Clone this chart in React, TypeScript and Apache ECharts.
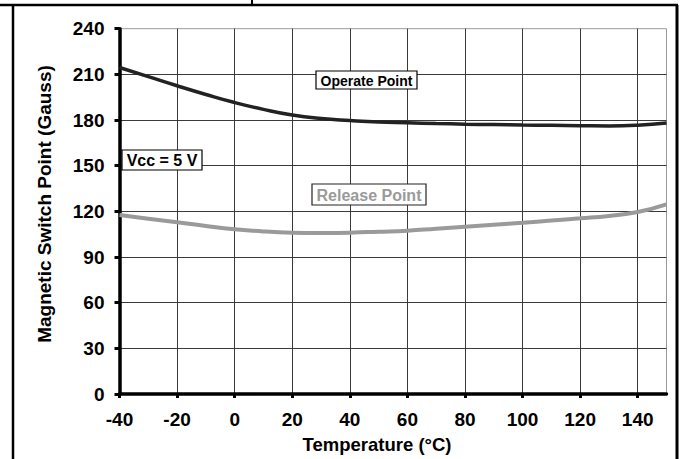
import React, { useEffect, useRef } from "react";
import * as echarts from "echarts";

const temperatures = [-40, -30, -20, -10, 0, 10, 20, 30, 40, 50, 60, 70, 80, 90, 100, 110, 120, 130, 140, 150];
const operatePoint = [214.5, 208.5, 202.5, 196.8, 191.5, 187, 183.3, 181, 179.7, 178.7, 178.2, 177.7, 177.3, 177, 176.7, 176.5, 176.3, 176.1, 176.6, 178];
const releasePoint = [117.6, 115.2, 112.8, 110.4, 108.3, 106.8, 106, 105.8, 106, 106.6, 107.3, 108.6, 109.9, 111.2, 112.5, 114, 115.4, 117, 119.6, 124.6];

const xMin = -40;
const xMax = 150;
const xStep = 20;
const yMin = 0;
const yMax = 240;
const yStep = 30;

const FONT = "'Liberation Sans', Arial, 'DejaVu Sans', sans-serif";

export default function App() {
  const ref = useRef<HTMLDivElement>(null);
  useEffect(() => {
    if (!ref.current) return;
    const chart = echarts.init(ref.current, undefined, { renderer: "svg" });
    const op = temperatures.map((t, i) => [t, operatePoint[i]]);
    const rp = temperatures.map((t, i) => [t, releasePoint[i]]);
    chart.setOption({
      animation: false,
      backgroundColor: "#ffffff",
      grid: {
        left: 119.5,
        top: 28.7,
        right: 14.5,
        bottom: 65,
        show: true,
        borderColor: "#9a9a9a",
        borderWidth: 1,
        backgroundColor: "transparent",
      },
      xAxis: {
        type: "value",
        min: xMin,
        max: xMax,
        interval: xStep,
        axisLine: { show: true, onZero: false, lineStyle: { color: "#000", width: 3.5 } },
        axisTick: { show: true, length: 4, lineStyle: { color: "#000", width: 3 } },
        axisLabel: {
          showMaxLabel: false,
          margin: 16,
          color: "#000",
          fontFamily: FONT,
          fontWeight: "bold",
          fontSize: 19,
        },
        splitLine: { show: true, showMaxLine: false, lineStyle: { color: "#3a3a3a", width: 1 } },
      },
      yAxis: {
        type: "value",
        min: yMin,
        max: yMax,
        interval: yStep,
        axisLine: { show: true, onZero: false, lineStyle: { color: "#000", width: 3.5 } },
        axisTick: { show: true, length: 5, lineStyle: { color: "#000", width: 3 } },
        axisLabel: {
          margin: 15,
          color: "#000",
          fontFamily: FONT,
          fontWeight: "bold",
          fontSize: 19,
        },
        splitLine: { show: true, showMaxLine: false, lineStyle: { color: "#3a3a3a", width: 1 } },
      },
      series: [
        {
          name: "Operate Point",
          type: "line",
          data: op,
          smooth: true,
          symbol: "none",
          lineStyle: { color: "#222222", width: 3.5 },
          z: 5,
        },
        {
          name: "Release Point",
          type: "line",
          data: rp,
          smooth: true,
          symbol: "none",
          lineStyle: { color: "#9a9a9a", width: 4 },
          z: 5,
        },
      ],
      graphic: [
        // outer frame
        { type: "line", shape: { x1: 0, y1: 5, x2: 678, y2: 5 }, style: { stroke: "#000", lineWidth: 2.5 } },
        { type: "line", shape: { x1: 13, y1: 5, x2: 13, y2: 459 }, style: { stroke: "#000", lineWidth: 2.5 } },
        { type: "line", shape: { x1: 677, y1: 5, x2: 677, y2: 459 }, style: { stroke: "#000", lineWidth: 3 } },
        { type: "line", shape: { x1: 252, y1: 0, x2: 252, y2: 5 }, style: { stroke: "#000", lineWidth: 2 } },
        // axis titles
        {
          type: "text",
          x: 44.5,
          y: 204,
          rotation: Math.PI / 2,
          style: {
            text: "Magnetic Switch Point (Gauss)",
            fill: "#000",
            font: `bold 19px ${FONT}`,
            align: "center",
            verticalAlign: "middle",
          },
        },
        {
          type: "text",
          x: 377,
          y: 444,
          style: {
            text: "Temperature (°C)",
            fill: "#000",
            font: `bold 18.5px ${FONT}`,
            align: "center",
            verticalAlign: "middle",
          },
        },
        // annotation boxes
        {
          type: "rect",
          shape: { x: 316, y: 71, width: 101, height: 18 },
          style: { fill: "#fff", stroke: "#000", lineWidth: 1.2 },
          z: 10,
        },
        {
          type: "text",
          x: 366.5,
          y: 80.5,
          z: 11,
          style: {
            text: "Operate Point",
            fill: "#000",
            font: `bold 14px ${FONT}`,
            align: "center",
            verticalAlign: "middle",
          },
        },
        {
          type: "rect",
          shape: { x: 312, y: 184, width: 114, height: 21 },
          style: { fill: "#fff", stroke: "#222", lineWidth: 1.2 },
          z: 10,
        },
        {
          type: "text",
          x: 369,
          y: 195,
          z: 11,
          style: {
            text: "Release Point",
            fill: "#9a9a9a",
            font: `bold 16px ${FONT}`,
            align: "center",
            verticalAlign: "middle",
          },
        },
        {
          type: "rect",
          shape: { x: 122, y: 150, width: 80, height: 20 },
          style: { fill: "#fff", stroke: "#000", lineWidth: 1.2 },
          z: 10,
        },
        {
          type: "text",
          x: 162,
          y: 160.5,
          z: 11,
          style: {
            text: "Vcc = 5 V",
            fill: "#000",
            font: `bold 16px ${FONT}`,
            align: "center",
            verticalAlign: "middle",
          },
        },
      ],
    });
    return () => chart.dispose();
  }, []);
  return (
    <div
      ref={ref}
      style={{ position: "absolute", left: 0, top: 0, width: 681, height: 459 }}
    />
  );
}
